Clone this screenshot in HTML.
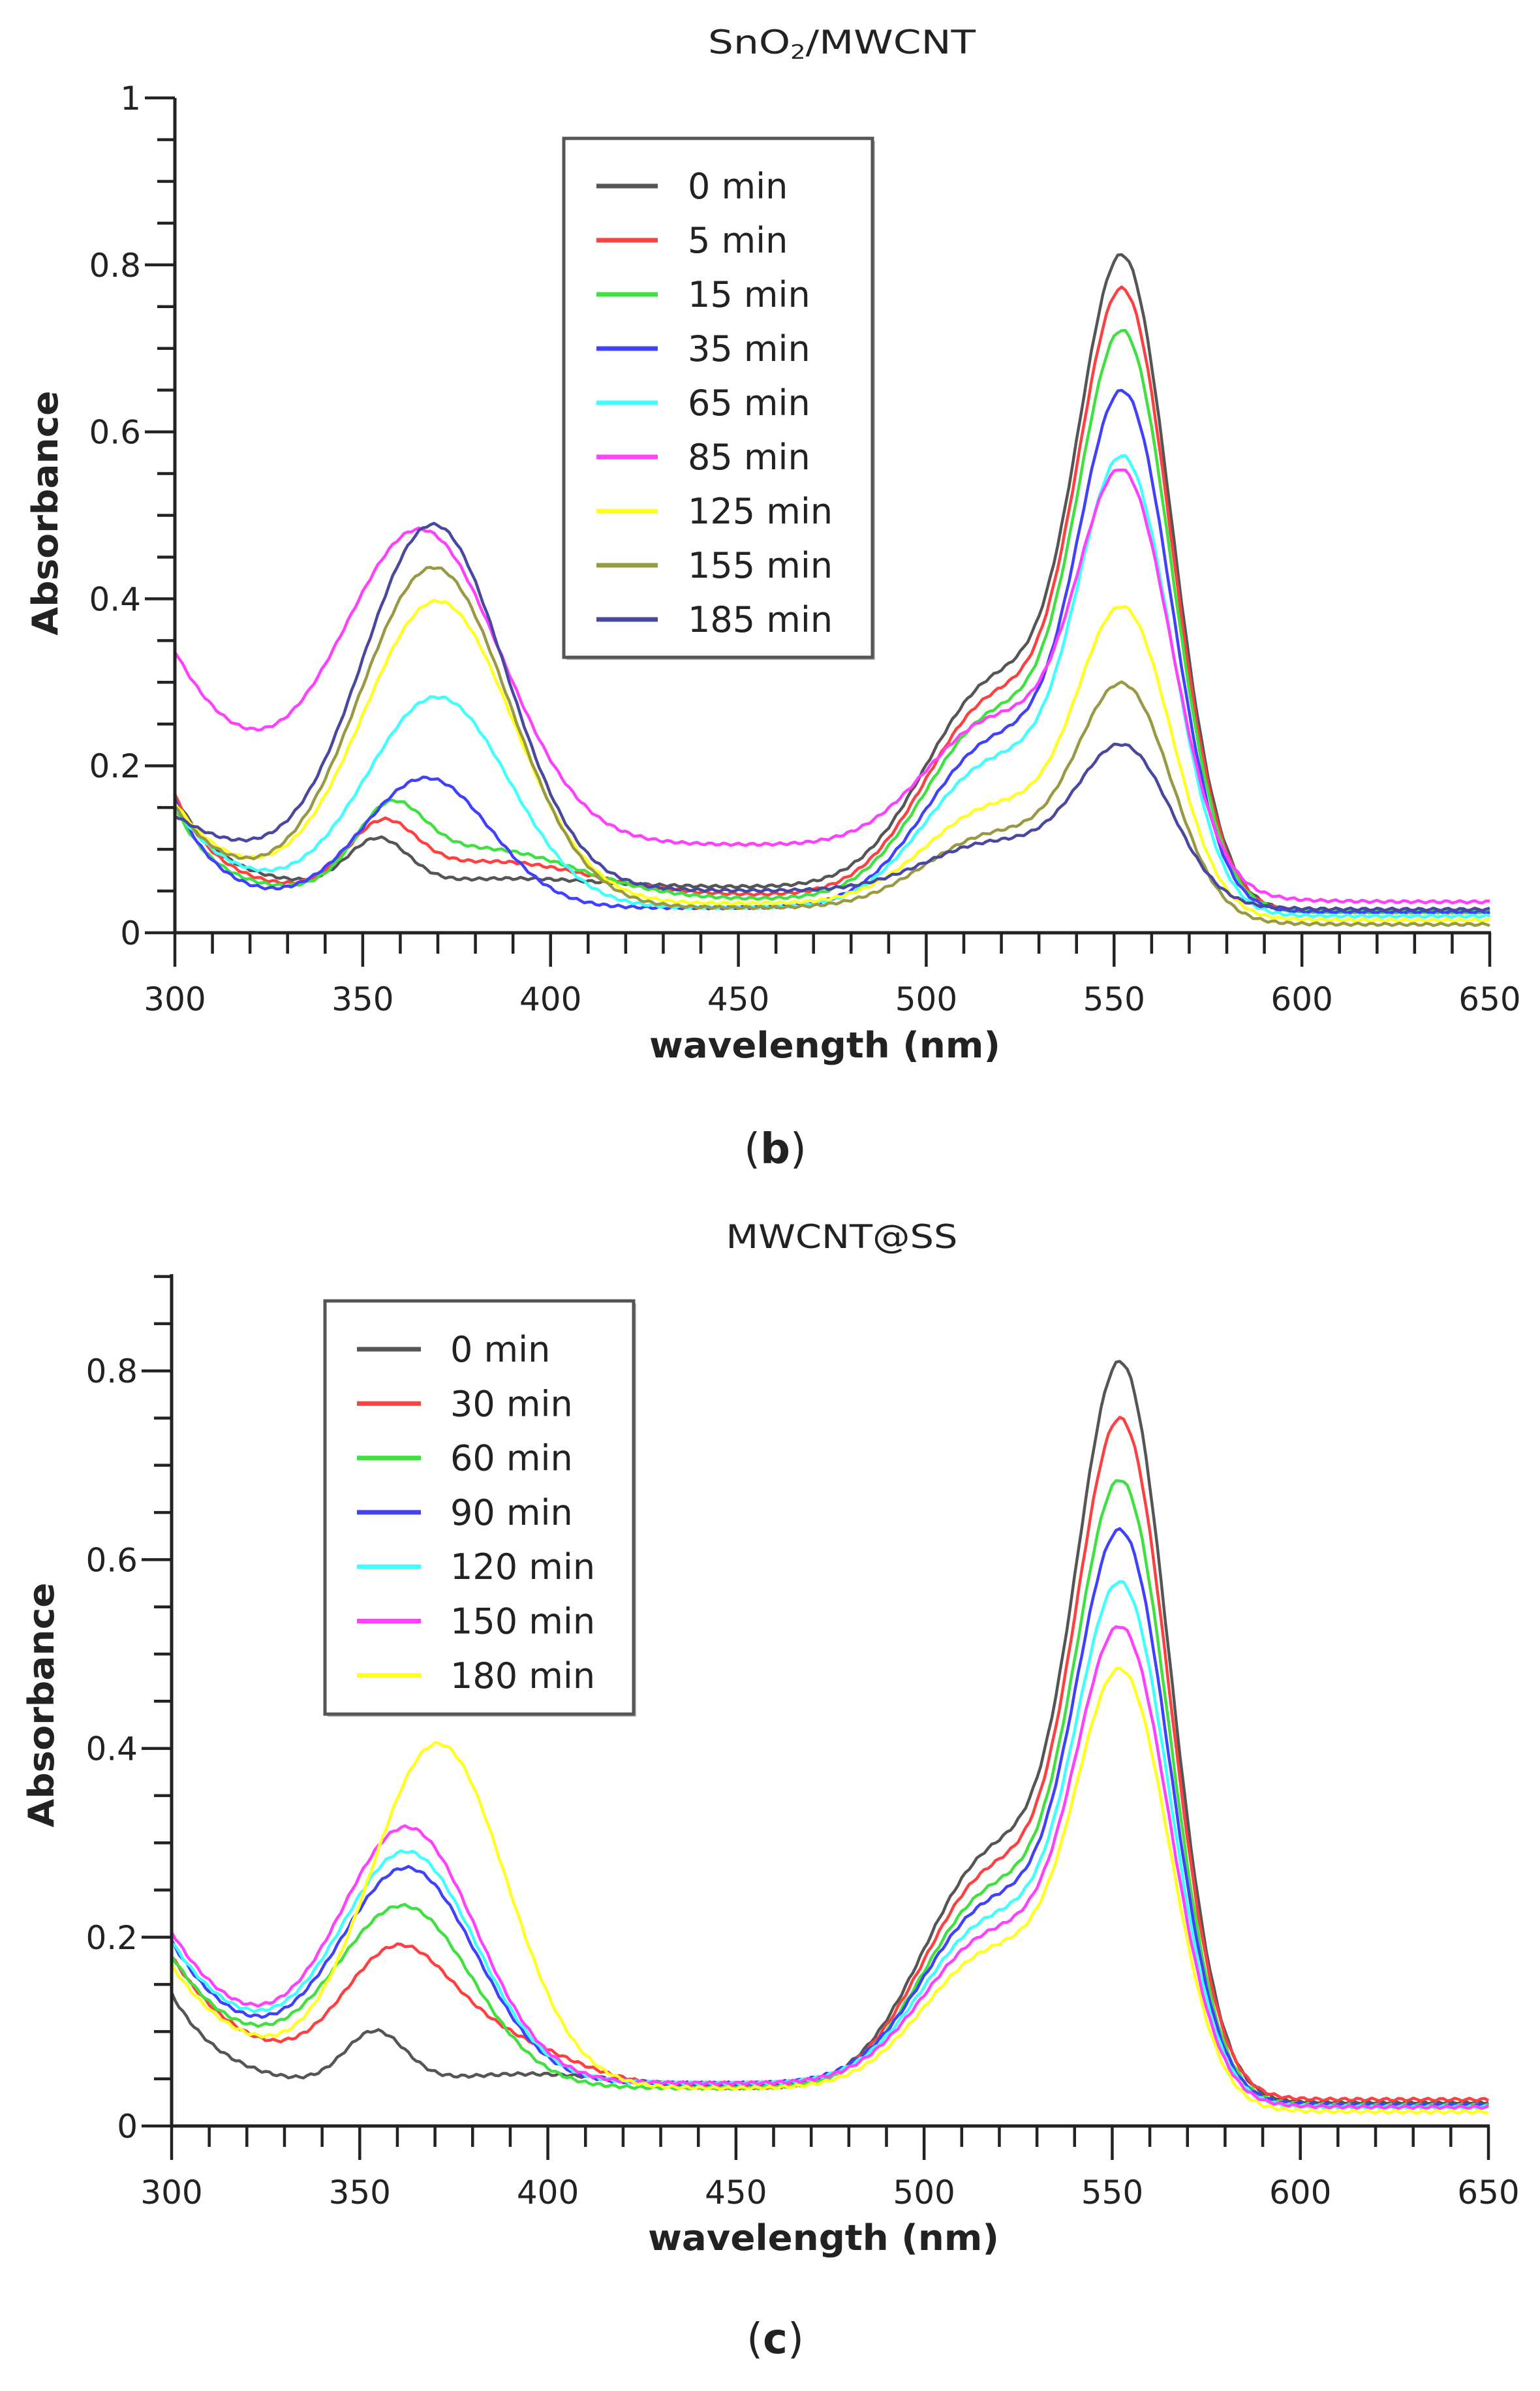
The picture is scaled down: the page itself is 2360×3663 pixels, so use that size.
<!DOCTYPE html>
<html><head><meta charset="utf-8">
<style>
html,body{margin:0;padding:0;background:#fff;}
svg{display:block;}
text{font-family:"DejaVu Sans","Liberation Sans",sans-serif;fill:#222;}
</style></head>
<body>
<svg id="s" xmlns="http://www.w3.org/2000/svg" width="2360" height="3663" viewBox="0 0 2360 3663">
<rect width="2360" height="3663" fill="#fff"/>
<g id="c1"></g>
<g id="c2"></g>
<text x="1290" y="82" font-size="50" text-anchor="middle" textLength="410" lengthAdjust="spacingAndGlyphs">SnO<tspan font-size="30" dy="8">2</tspan><tspan dy="-8">/MWCNT</tspan></text>
<text x="1290" y="1912" font-size="50" text-anchor="middle" textLength="355" lengthAdjust="spacingAndGlyphs">MWCNT@SS</text>
<text x="1264" y="1620" font-size="54" font-weight="bold" text-anchor="middle" textLength="538" lengthAdjust="spacingAndGlyphs">wavelength (nm)</text>
<text x="1262" y="3447" font-size="54" font-weight="bold" text-anchor="middle" textLength="538" lengthAdjust="spacingAndGlyphs">wavelength (nm)</text>
<text transform="translate(88,786) rotate(-90)" font-size="54" font-weight="bold" text-anchor="middle" textLength="375" lengthAdjust="spacingAndGlyphs">Absorbance</text>
<text transform="translate(82,2612) rotate(-90)" font-size="54" font-weight="bold" text-anchor="middle" textLength="375" lengthAdjust="spacingAndGlyphs">Absorbance</text>
<text x="1188" y="1782" font-size="64" font-family="Liberation Serif,serif" text-anchor="middle">(<tspan font-weight="bold">b</tspan>)</text>
<text x="1188" y="3605" font-size="64" font-family="Liberation Serif,serif" text-anchor="middle">(<tspan font-weight="bold">c</tspan>)</text>
</svg>
<script>
var NS="http://www.w3.org/2000/svg";
function el(p,t,a,txt){var e=document.createElementNS(NS,t);for(var k in a)e.setAttribute(k,a[k]);if(txt!==undefined)e.textContent=txt;p.appendChild(e);return e;}
function G(l,c,s){return Math.exp(-(l-c)*(l-c)/(2*s*s));}
function chart(g,ax){
  var X=function(l){return ax.x0+(l-300)*(ax.x1-ax.x0)/350;};
  var Y=function(a){return ax.y0-a*ax.k;};
  ax.curves.forEach(function(p){
    var d="";
    var tail=p.t!==undefined?p.t:0.025;
    var sh=0.33;
    var b553=tail+(p.b-tail)/(1+Math.exp((553-560)/12));
    var amp=(p.pk-b553)/(1+sh*G(553,518,18));
    for(var l=300;l<=650;l+=1){
      var base=tail+(p.b-tail)/(1+Math.exp((l-560)/12));
      var a=base+p.u*Math.exp(-(l-300)/(p.ud||12))+p.p1*G(l,p.c1,p.s1)+(p.e||0)*G(l,p.ec||390,p.es||22)
        +amp*(G(l,553,12.5)+sh*G(l,518,18));
      var n=Math.sin(l*1.7+p.pk*40)*0.0015;
      d+=(l==300?"M":"L")+X(l).toFixed(1)+" "+Y(a+n).toFixed(1);
    }
    el(g,"path",{d:d,fill:"none",stroke:p.col,"stroke-width":4.5,"stroke-linejoin":"round"});
  });
  el(g,"line",{x1:ax.x0,y1:ax.ytop,x2:ax.x0,y2:ax.y0,stroke:"#222","stroke-width":5});
  el(g,"line",{x1:ax.x0,y1:ax.y0,x2:ax.x1+2,y2:ax.y0,stroke:"#222","stroke-width":5});
  for(var l=300;l<=650;l+=10){var maj=(l%50==0);
    el(g,"line",{x1:X(l),y1:ax.y0,x2:X(l),y2:ax.y0+(maj?52:32),stroke:"#222","stroke-width":4.5});
    if(maj)el(g,"text",{x:X(l),y:ax.ylab,"font-size":50,"text-anchor":"middle"},String(l));
  }
  for(var i=0;i<=ax.ymax*20+0.01;i++){var a=i*0.05,maj=(i%4==0);
    el(g,"line",{x1:ax.x0,y1:Y(a),x2:ax.x0-(maj?46:27),y2:Y(a),stroke:"#222","stroke-width":4.5});
    if(maj){var s=(i==0?"0":(i==20?"1":a.toFixed(1)));
      el(g,"text",{x:ax.x0-52,y:Y(a)+18,"font-size":50,"text-anchor":"end"},s);}
  }
  var L=ax.leg;
  el(g,"rect",{x:L.x+4,y:L.y+4,width:L.w,height:L.h,fill:"#bbb"});
  el(g,"rect",{x:L.x,y:L.y,width:L.w,height:L.h,fill:"#fff",stroke:"#555","stroke-width":5});
  ax.curves.forEach(function(p,i){var yy=L.e0+i*L.st;
    el(g,"line",{x1:L.lx0,y1:yy,x2:L.lx1,y2:yy,stroke:p.col,"stroke-width":7});
    el(g,"text",{x:L.tx,y:yy+19,"font-size":54},p.name);
  });
}
var C1=[
 {name:"0 min",col:"#555555",b:0.055,u:0.11,p1:0.055,c1:354,s1:8,e:0.01,pk:0.81},
 {name:"5 min",col:"#ff4040",b:0.045,u:0.12,p1:0.07,c1:355,s1:9,e:0.04,ec:385,es:25,pk:0.77},
 {name:"15 min",col:"#40e040",b:0.04,u:0.11,p1:0.08,c1:357,s1:9,e:0.06,ec:382,es:25,pk:0.72},
 {name:"35 min",col:"#4040ff",b:0.03,u:0.13,p1:0.155,c1:367,s1:17,pk:0.648},
 {name:"65 min",col:"#40ffff",b:0.03,u:0.12,ud:18,p1:0.25,c1:370,s1:19,pk:0.57,t:0.02},
 {name:"85 min",col:"#ff40ff",b:0.105,u:0.23,ud:26,p1:0.36,c1:366,s1:21,pk:0.553,t:0.037},
 {name:"125 min",col:"#ffff20",b:0.035,u:0.12,ud:18,p1:0.36,c1:370,s1:20,pk:0.39,t:0.015},
 {name:"155 min",col:"#999944",b:0.03,u:0.12,ud:18,p1:0.405,c1:369,s1:20,pk:0.298,t:0.01},
 {name:"185 min",col:"#4848a0",b:0.05,u:0.09,ud:30,p1:0.43,c1:369,s1:19,pk:0.225,t:0.028}
];
var C2=[
 {name:"0 min",col:"#555555",b:0.04,u:0.1,ud:14,p1:0.055,c1:354,s1:8,e:0.015,ec:395,es:25,pk:0.808,t:0.025},
 {name:"30 min",col:"#ff4040",b:0.04,u:0.14,ud:22,p1:0.12,c1:359,s1:14,e:0.05,ec:385,es:20,pk:0.748,t:0.028},
 {name:"60 min",col:"#40e040",b:0.04,u:0.14,ud:22,p1:0.185,c1:362,s1:18,pk:0.683,t:0.022},
 {name:"90 min",col:"#4040ff",b:0.045,u:0.15,ud:22,p1:0.22,c1:363,s1:18,pk:0.63,t:0.022},
 {name:"120 min",col:"#40ffff",b:0.045,u:0.15,ud:24,p1:0.235,c1:363,s1:18,pk:0.575,t:0.02},
 {name:"150 min",col:"#ff40ff",b:0.045,u:0.16,ud:24,p1:0.26,c1:363,s1:18,pk:0.528,t:0.02},
 {name:"180 min",col:"#ffff20",b:0.04,u:0.13,ud:22,p1:0.36,c1:371,s1:18,pk:0.483,t:0.015}
];
chart(document.getElementById("c1"),{x0:268,x1:2283,y0:1429,k:1279,ytop:150,ymax:1,ylab:1548,curves:C1,
  leg:{x:864,y:212,w:473,h:795,e0:285,st:83,lx0:914,lx1:1008,tx:1054}});
chart(document.getElementById("c2"),{x0:263,x1:2281,y0:3257,k:1446,ytop:1952,ymax:0.9,ylab:3376,curves:C2,
  leg:{x:498,y:1993,w:473,h:633,e0:2067,st:83.3,lx0:547,lx1:645,tx:690}});
</script>
</body></html>
